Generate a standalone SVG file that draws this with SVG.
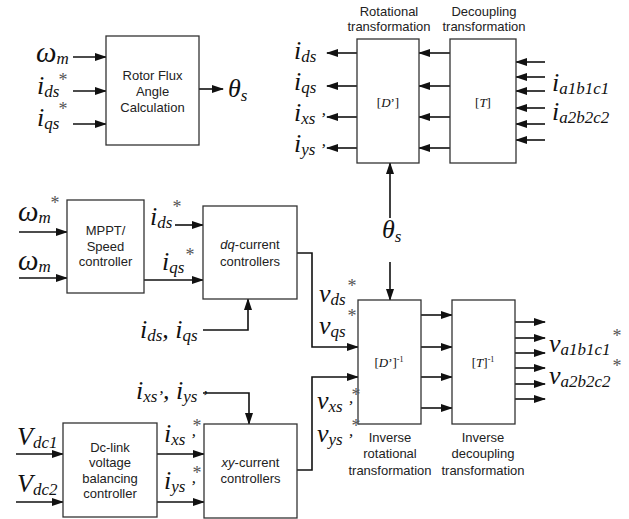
<svg xmlns="http://www.w3.org/2000/svg" width="629" height="519" viewBox="0 0 629 519">
<style>
.box{fill:#fff;stroke:#333;stroke-width:1.3}
.c{fill:none;stroke:#111;stroke-width:1.6}
.t{font-family:"Liberation Sans",Arial,sans-serif;font-size:13px;fill:#222;text-anchor:middle}
.m{font-family:"Liberation Serif","Times New Roman",serif;font-style:italic;font-size:26px;fill:#111}
.w{font-size:29px}
.s{font-size:17px}
.st{font-family:"Liberation Serif","Times New Roman",serif;font-size:18px;fill:#555}
.b{font-family:"Liberation Serif","Times New Roman",serif;font-size:13px;fill:#111;text-anchor:middle}
.sup{font-size:8px}
</style>
<defs>
<marker id="ah" markerUnits="userSpaceOnUse" markerWidth="12" markerHeight="8" refX="11" refY="4" orient="auto">
<path d="M0,0 L12,4 L0,8 z" fill="#111"/>
</marker>
</defs>
<g id="connectors">
<path class="c" d="M73,57 H106" marker-end="url(#ah)"/>
<path class="c" d="M73,91 H106" marker-end="url(#ah)"/>
<path class="c" d="M73,124 H106" marker-end="url(#ah)"/>
<path class="c" d="M199,89 H223" marker-end="url(#ah)"/>
<path class="c" d="M357,53 H327" marker-end="url(#ah)"/>
<path class="c" d="M357,86 H327" marker-end="url(#ah)"/>
<path class="c" d="M357,117 H327" marker-end="url(#ah)"/>
<path class="c" d="M357,148 H327" marker-end="url(#ah)"/>
<path class="c" d="M450,53 H419" marker-end="url(#ah)"/>
<path class="c" d="M450,86 H419" marker-end="url(#ah)"/>
<path class="c" d="M450,117 H419" marker-end="url(#ah)"/>
<path class="c" d="M450,148 H419" marker-end="url(#ah)"/>
<path class="c" d="M545,62 H516" marker-end="url(#ah)"/>
<path class="c" d="M545,77 H516" marker-end="url(#ah)"/>
<path class="c" d="M545,91 H516" marker-end="url(#ah)"/>
<path class="c" d="M545,108 H516" marker-end="url(#ah)"/>
<path class="c" d="M545,124 H516" marker-end="url(#ah)"/>
<path class="c" d="M545,140 H516" marker-end="url(#ah)"/>
<path class="c" d="M390,218 V163" marker-end="url(#ah)"/>
<path class="c" d="M390,262 V300" marker-end="url(#ah)"/>
<path class="c" d="M19,232 H67" marker-end="url(#ah)"/>
<path class="c" d="M19,278 H67" marker-end="url(#ah)"/>
<path class="c" d="M175,225 H203" marker-end="url(#ah)"/>
<path class="c" d="M144,280 H203" marker-end="url(#ah)"/>
<path class="c" d="M203,330 H248 V299" marker-end="url(#ah)"/>
<path class="c" d="M297,253 H312 V347 H358" marker-end="url(#ah)"/>
<path class="c" d="M297,470 H312 V377 H358" marker-end="url(#ah)"/>
<path class="c" d="M421,315 H452" marker-end="url(#ah)"/>
<path class="c" d="M421,347 H452" marker-end="url(#ah)"/>
<path class="c" d="M421,377 H452" marker-end="url(#ah)"/>
<path class="c" d="M421,408 H452" marker-end="url(#ah)"/>
<path class="c" d="M515,322 H545" marker-end="url(#ah)"/>
<path class="c" d="M515,338 H545" marker-end="url(#ah)"/>
<path class="c" d="M515,353 H545" marker-end="url(#ah)"/>
<path class="c" d="M515,368 H545" marker-end="url(#ah)"/>
<path class="c" d="M515,384 H545" marker-end="url(#ah)"/>
<path class="c" d="M515,399 H545" marker-end="url(#ah)"/>
<path class="c" d="M16,454 H63" marker-end="url(#ah)"/>
<path class="c" d="M16,502 H63" marker-end="url(#ah)"/>
<path class="c" d="M157,454 H204" marker-end="url(#ah)"/>
<path class="c" d="M157,502 H204" marker-end="url(#ah)"/>
<path class="c" d="M203,393 H249 V424" marker-end="url(#ah)"/>
</g>
<g id="rotor-flux">
<rect class="box" x="106" y="36" width="93" height="109"/>
<text class="t" x="152.5" y="80">Rotor Flux</text>
<text class="t" x="152.5" y="96">Angle</text>
<text class="t" x="152.5" y="112">Calculation</text>
</g>
<g id="rotational">
<rect class="box" x="357" y="39" width="62" height="124"/>
<text class="t" x="389" y="16">Rotational</text>
<text class="t" x="389" y="31">transformation</text>
<text class="b" x="388" y="107">[<tspan font-style="italic">D</tspan>’]</text>
</g>
<g id="decoupling">
<rect class="box" x="450" y="39" width="66" height="124"/>
<text class="t" x="484" y="16">Decoupling</text>
<text class="t" x="484" y="31">transformation</text>
<text class="b" x="483" y="107">[<tspan font-style="italic">T</tspan>]</text>
</g>
<g id="mppt">
<rect class="box" x="67" y="200" width="77" height="93"/>
<text class="t" x="105.5" y="235">MPPT/</text>
<text class="t" x="105.5" y="251">Speed</text>
<text class="t" x="105.5" y="266">controller</text>
</g>
<g id="dq-controllers">
<rect class="box" x="203" y="206" width="94" height="93"/>
<text class="t" x="250" y="249"><tspan font-style="italic">dq</tspan>-current</text>
<text class="t" x="250" y="266">controllers</text>
</g>
<g id="inv-rotational">
<rect class="box" x="358" y="300" width="63" height="124"/>
<text class="b" x="389" y="367">[<tspan font-style="italic">D</tspan>’]<tspan class="sup" dy="-5">-1</tspan></text>
<text class="t" x="390" y="442">Inverse</text>
<text class="t" x="390" y="458">rotational</text>
<text class="t" x="390" y="475">transformation</text>
</g>
<g id="inv-decoupling">
<rect class="box" x="452" y="300" width="63" height="124"/>
<text class="b" x="483" y="367">[<tspan font-style="italic">T</tspan>]<tspan class="sup" dy="-5">-1</tspan></text>
<text class="t" x="483" y="442">Inverse</text>
<text class="t" x="483" y="458">decoupling</text>
<text class="t" x="483" y="475">transformation</text>
</g>
<g id="dc-link">
<rect class="box" x="63" y="423" width="94" height="94"/>
<text class="t" x="110" y="452">Dc-link</text>
<text class="t" x="110" y="467">voltage</text>
<text class="t" x="110" y="483">balancing</text>
<text class="t" x="110" y="498">controller</text>
</g>
<g id="xy-controllers">
<rect class="box" x="204" y="424" width="93" height="94"/>
<text class="t" x="250.5" y="467"><tspan font-style="italic">xy</tspan>-current</text>
<text class="t" x="250.5" y="483">controllers</text>
</g>
<g id="labels">
<text class="m" x="36" y="62"><tspan class="w">ω</tspan><tspan class="s" dy="2">m</tspan></text>
<text class="m" x="37" y="94">i<tspan class="s" dy="3">ds</tspan></text>
<text class="st" x="58.5" y="86">*</text>
<text class="m" x="37" y="126">i<tspan class="s" dy="3">qs</tspan></text>
<text class="st" x="58.5" y="115">*</text>
<text class="m" x="228" y="97">θ<tspan class="s" dy="4">s</tspan></text>
<text class="m" x="294" y="59">i<tspan class="s" dy="3">ds</tspan></text>
<text class="m" x="294" y="90">i<tspan class="s" dy="3">qs</tspan></text>
<text class="m" x="294" y="121">i<tspan class="s" dy="3">xs</tspan><tspan class="s"> ’</tspan></text>
<text class="m" x="294" y="152">i<tspan class="s" dy="3">ys</tspan><tspan class="s"> ’</tspan></text>
<text class="m" x="552" y="91">i<tspan class="s" dy="3">a1b1c1</tspan></text>
<text class="m" x="552" y="120">i<tspan class="s" dy="3">a2b2c2</tspan></text>
<text class="m" x="382" y="238">θ<tspan class="s" dy="4">s</tspan></text>
<text class="m" x="18" y="221"><tspan class="w">ω</tspan><tspan class="s" dy="2">m</tspan></text>
<text class="st" x="50.5" y="209">*</text>
<text class="m" x="18" y="270"><tspan class="w">ω</tspan><tspan class="s" dy="2">m</tspan></text>
<text class="m" x="150" y="225">i<tspan class="s" dy="3">ds</tspan></text>
<text class="st" x="172.5" y="213">*</text>
<text class="m" x="162" y="270">i<tspan class="s" dy="3">qs</tspan></text>
<text class="st" x="185.5" y="261">*</text>
<text class="m" x="140" y="338">i<tspan class="s" dy="3">ds</tspan><tspan dy="-3">, i</tspan><tspan class="s" dy="3">qs</tspan></text>
<text class="m" x="136" y="399">i<tspan class="s" dy="3">xs</tspan><tspan class="s">’</tspan><tspan dy="-3">, i</tspan><tspan class="s" dy="3">ys</tspan><tspan class="s"> ’</tspan></text>
<text class="m" x="17" y="445">V<tspan class="s" dy="3">dc1</tspan></text>
<text class="m" x="17" y="492">V<tspan class="s" dy="3">dc2</tspan></text>
<text class="m" x="164" y="442">i<tspan class="s" dy="3">xs</tspan><tspan class="s"> ’</tspan></text>
<text class="st" x="192.5" y="432">*</text>
<text class="m" x="164" y="489">i<tspan class="s" dy="3">ys</tspan><tspan class="s"> ’</tspan></text>
<text class="st" x="192.5" y="479">*</text>
<text class="m" x="319" y="302">v<tspan class="s" dy="3">ds</tspan></text>
<text class="st" x="347.5" y="292">*</text>
<text class="m" x="319" y="334">v<tspan class="s" dy="3">qs</tspan></text>
<text class="st" x="347.5" y="322">*</text>
<text class="m" x="317" y="409">v<tspan class="s" dy="3">xs</tspan><tspan class="s"> ’</tspan></text>
<text class="st" x="351.5" y="401">*</text>
<text class="st" x="351.5" y="432">*</text>
<text class="m" x="317" y="442">v<tspan class="s" dy="3">ys</tspan><tspan class="s"> ’</tspan></text>
<text class="m" x="549" y="352">v<tspan class="s" dy="3">a1b1c1</tspan></text>
<text class="st" x="612.5" y="342">*</text>
<text class="m" x="549" y="384">v<tspan class="s" dy="3">a2b2c2</tspan></text>
<text class="st" x="612.5" y="372">*</text>
</g>
</svg>
